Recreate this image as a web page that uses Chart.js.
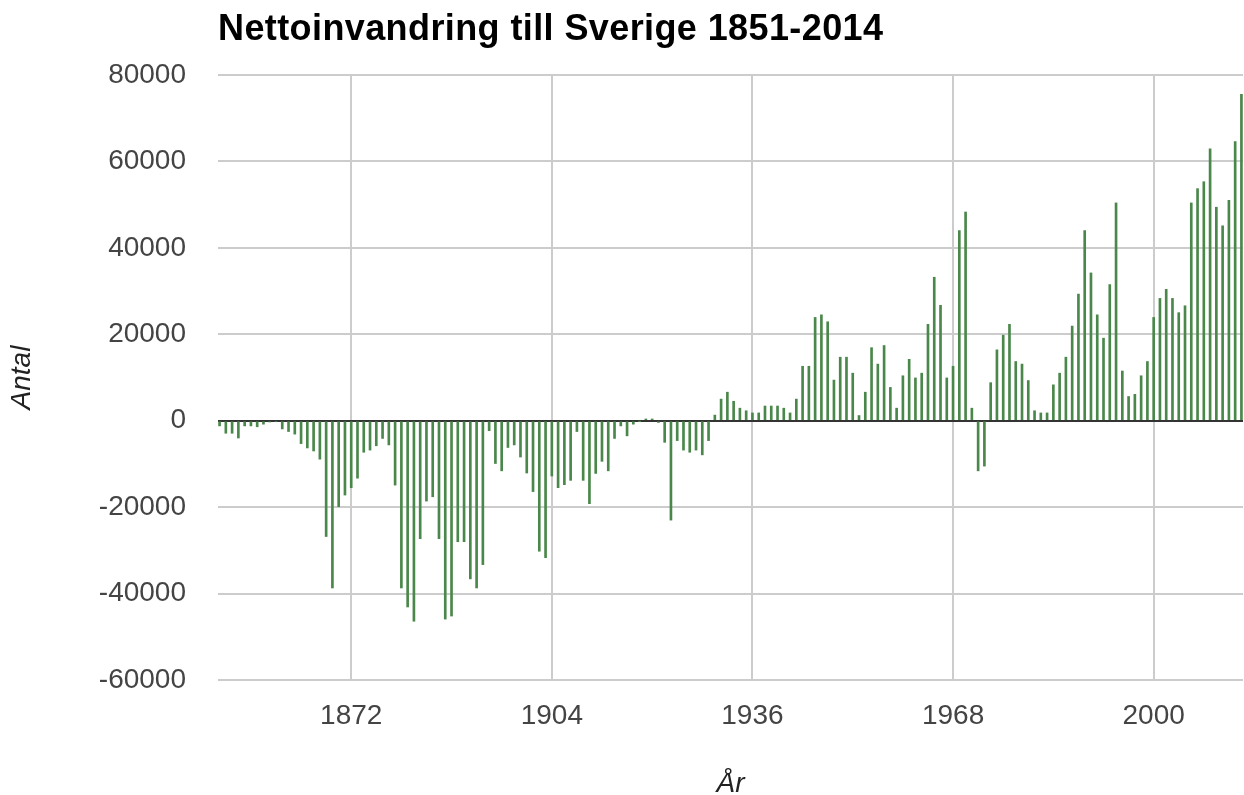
<!DOCTYPE html>
<html>
<head>
<meta charset="utf-8">
<title>Nettoinvandring till Sverige 1851-2014</title>
<script src="https://cdn.jsdelivr.net/npm/chart.js@4.4.1/dist/chart.umd.min.js"></script>
<style>
  html, body { margin: 0; padding: 0; background: #fff; }
  #wrap { position: relative; width: 1244px; height: 795px; }
  #chart { position: absolute; left: 0; top: 0; }
  #title {
    position: absolute; left: 218px; top: 10px;
    font: bold 36px 'Liberation Sans', Arial, sans-serif;
    line-height: 36px; letter-spacing: 0.4px; color: #000; white-space: nowrap;
  }
</style>
</head>
<body>
<div id="wrap">
  <canvas id="chart" width="1244" height="795"></canvas>
  <div id="title">Nettoinvandring till Sverige 1851-2014</div>
</div>
<script>
// Years 1851-2014, one bar per year
const years = [
  1851, 1852, 1853, 1854, 1855, 1856, 1857, 1858, 1859, 1860,
  1861, 1862, 1863, 1864, 1865, 1866, 1867, 1868, 1869, 1870,
  1871, 1872, 1873, 1874, 1875, 1876, 1877, 1878, 1879, 1880,
  1881, 1882, 1883, 1884, 1885, 1886, 1887, 1888, 1889, 1890,
  1891, 1892, 1893, 1894, 1895, 1896, 1897, 1898, 1899, 1900,
  1901, 1902, 1903, 1904, 1905, 1906, 1907, 1908, 1909, 1910,
  1911, 1912, 1913, 1914, 1915, 1916, 1917, 1918, 1919, 1920,
  1921, 1922, 1923, 1924, 1925, 1926, 1927, 1928, 1929, 1930,
  1931, 1932, 1933, 1934, 1935, 1936, 1937, 1938, 1939, 1940,
  1941, 1942, 1943, 1944, 1945, 1946, 1947, 1948, 1949, 1950,
  1951, 1952, 1953, 1954, 1955, 1956, 1957, 1958, 1959, 1960,
  1961, 1962, 1963, 1964, 1965, 1966, 1967, 1968, 1969, 1970,
  1971, 1972, 1973, 1974, 1975, 1976, 1977, 1978, 1979, 1980,
  1981, 1982, 1983, 1984, 1985, 1986, 1987, 1988, 1989, 1990,
  1991, 1992, 1993, 1994, 1995, 1996, 1997, 1998, 1999, 2000,
  2001, 2002, 2003, 2004, 2005, 2006, 2007, 2008, 2009, 2010,
  2011, 2012, 2013, 2014
];

// Net immigration (antal)
const netMigration = [
  -1200, -2900, -2900, -4000, -1200, -1200, -1400, -800, -300, -200,
  -1900, -2500, -3100, -5300, -6300, -7000, -8900, -26800, -38700, -19900,
  -17200, -15500, -13300, -7300, -6800, -5800, -4100, -5600, -14900, -38700,
  -43100, -46400, -27300, -18600, -17600, -27300, -45900, -45200, -28000, -28000,
  -36600, -38700, -33300, -2300, -9900, -11600, -6200, -5600, -8400, -12100,
  -16400, -30200, -31700, -12800, -15500, -14800, -13800, -2500, -13800, -19200,
  -12200, -9400, -11600, -4100, -1200, -3500, -800, -100, 400, 400,
  -400, -5000, -23000, -4600, -6800, -7300, -6800, -7900, -4600, 1300,
  5000, 6600, 4500, 2900, 2300, 1800, 1800, 3400, 3400, 3400,
  2900, 1800, 5000, 12600, 12600, 23900, 24500, 22900, 9400, 14700,
  14700, 11000, 1200, 6600, 16900, 13100, 17400, 7700, 2900, 10400,
  14200, 9900, 11000, 22300, 33200, 26700, 9900, 12600, 44000, 48300,
  2900, -11600, -10500, 8800, 16400, 19800, 22300, 13700, 13100, 9300,
  2300, 1800, 1800, 8300, 11000, 14700, 21900, 29300, 44000, 34200,
  24500, 19100, 31500, 50400, 11500, 5600, 6100, 10400, 13700, 23900,
  28300, 30400, 28300, 25000, 26600, 50400, 53700, 55300, 62900, 49400,
  45100, 51000, 64600, 75500
];

const yearTicks = [1872, 1904, 1936, 1968, 2000];

const FONT = "'Liberation Sans', Arial, sans-serif";

new Chart(document.getElementById('chart'), {
  type: 'bar',
  data: {
    datasets: [{
      label: 'Nettoinvandring',
      data: years.map((y, i) => ({ x: y, y: netMigration[i] })),
      backgroundColor: '#4a874a',
      borderWidth: 0,
      barThickness: 2,
    }],
  },
  options: {
    responsive: false,
    animation: false,
    layout: { padding: { top: 75, right: 1, bottom: 0, left: 0 } },
    plugins: {
      legend: { display: false },
      tooltip: { enabled: false },
    },
    scales: {
      x: {
        type: 'linear',
        min: 1850.75,
        max: 2014.25,
        offset: false,
        afterBuildTicks: (scale) => { scale.ticks = yearTicks.map(v => ({ value: v })); },
        afterFit: (scale) => { scale.height = 115; },
        ticks: {
          autoSkip: false, maxRotation: 0, padding: 19,
          color: '#444', font: { family: FONT, size: 28 },
          callback: (v) => String(v),
        },
        grid: { color: '#cccccc', lineWidth: 2, drawTicks: false, offset: false },
        border: { display: false },
        title: {
          display: true, text: 'År', color: '#222',
          font: { family: FONT, size: 28, style: 'italic', lineHeight: 0.75 },
          padding: { top: 0, bottom: 0 },
        },
      },
      y: {
        min: -60000,
        max: 80000,
        afterFit: (scale) => { scale.width = 218; },
        ticks: {
          stepSize: 20000, padding: 32,
          color: '#444', font: { family: FONT, size: 28 },
          callback: (v) => String(v),
        },
        grid: {
          color: (ctx) => ctx.tick && ctx.tick.value === 0 ? '#333333' : '#cccccc',
          lineWidth: 2, drawTicks: false,
        },
        border: { display: false },
        title: {
          display: true, text: 'Antal', color: '#222',
          font: { family: FONT, size: 28, style: 'italic' },
          padding: { top: 5, bottom: 0 },
        },
      },
    },
  },
});
</script>
</body>
</html>
